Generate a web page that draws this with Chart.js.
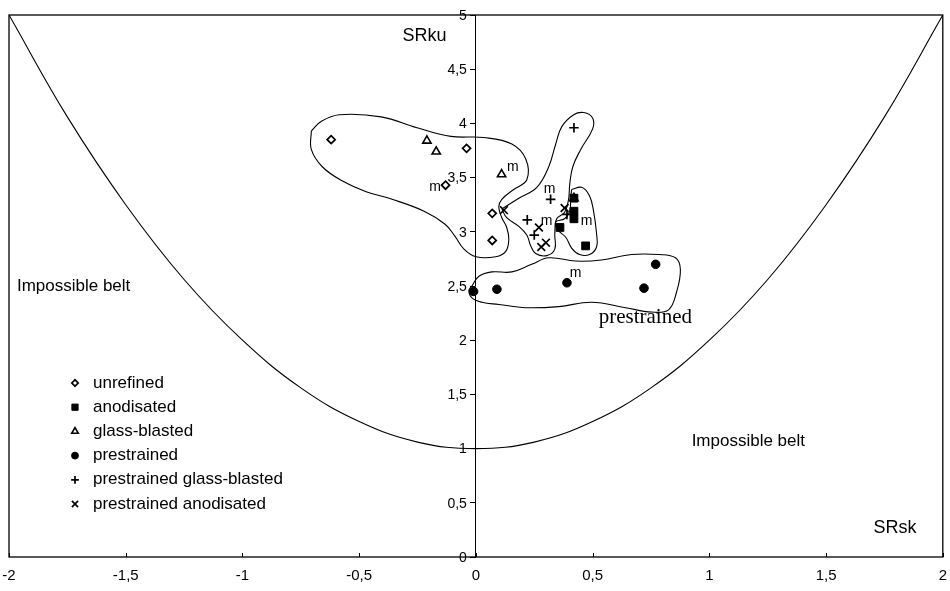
<!DOCTYPE html>
<html>
<head>
<meta charset="utf-8">
<script src="https://cdn.jsdelivr.net/npm/chart.js"></script>
<style>
  html, body { margin: 0; padding: 0; background: #fff; }
  canvas { display: block; }
</style>
</head>
<body>
<canvas id="chartSkewKurt" width="950" height="591"></canvas>
<script>
/* ── Axis tick labels ─────────────────────────────────────── */
const X_TICKS = ['-2', '-1,5', '-1', '-0,5', '0', '0,5', '1', '1,5', '2'];
const Y_TICKS = ['0', '0,5', '1', '1,5', '2', '2,5', '3', '3,5', '4', '4,5', '5'];

/* ── Measured points (SRsk, SRku) ── */
const unrefinedX = [-0.62, -0.04, -0.13, 0.07, 0.07];
const unrefinedY = [3.85, 3.77, 3.43, 3.17, 2.92];

const anodisatedX = [0.42, 0.42, 0.42, 0.36, 0.47];
const anodisatedY = [3.31, 3.19, 3.12, 3.04, 2.87];

const glassX = [-0.21, -0.17, 0.11, 0.42];
const glassY = [3.84, 3.74, 3.53, 3.31];

const prestrainedX = [-0.01, 0.09, 0.39, 0.72, 0.77];
const prestrainedY = [2.45, 2.47, 2.53, 2.48, 2.70];

const preGlassX = [0.42, 0.32, 0.22, 0.25, 0.39];
const preGlassY = [3.96, 3.30, 3.11, 2.97, 3.16];

const preAnodX = [0.12, 0.27, 0.28, 0.30, 0.38];
const preAnodY = [3.20, 3.04, 2.86, 2.90, 3.22];

/* ── Impossible-belt boundary ── */
const boundX = [-2, -1.75, -1.5, -1.25, -1, -0.75, -0.5, -0.25, 0, 0.25, 0.5, 0.75, 1, 1.25, 1.5, 1.75, 2];
const boundY = [5, 4.06, 3.25, 2.56, 2, 1.56, 1.25, 1.06, 1, 1.06, 1.25, 1.56, 2, 2.56, 3.25, 4.06, 5];

/* ── Hand-drawn group outlines ── */
const outlineAX = [-0.705, -0.662, -0.585, -0.406, -0.252, -0.107, 0.034, 0.154, 0.214, 0.218, 0.162, 0.111, 0.098, 0.111, 0.132, 0.141, 0.128, 0.085, 0, -0.051, -0.090, -0.132, -0.222, -0.359, -0.470, -0.573, -0.658, -0.705, -0.705];
const outlineAY = [3.93, 4.02, 4.08, 4.06, 3.96, 3.88, 3.87, 3.81, 3.67, 3.48, 3.39, 3.30, 3.23, 3.13, 3.04, 2.93, 2.82, 2.77, 2.77, 2.84, 2.96, 3.07, 3.19, 3.30, 3.37, 3.47, 3.60, 3.76, 3.93];

const outlineBX = [0.111, 0.184, 0.261, 0.312, 0.342, 0.368, 0.419, 0.462, 0.500, 0.500, 0.449, 0.415, 0.402, 0.397, 0.380, 0.346, 0.338, 0.338, 0.303, 0.256, 0.235, 0.218, 0.184, 0.132, 0.111];
const outlineBY = [3.21, 3.31, 3.41, 3.60, 3.81, 3.97, 4.08, 4.10, 4.05, 3.95, 3.76, 3.60, 3.44, 3.30, 3.18, 3.12, 2.98, 2.84, 2.78, 2.80, 2.87, 2.97, 3.05, 3.13, 3.21];

const outlineCX = [0.410, 0.453, 0.487, 0.504, 0.517, 0.517, 0.487, 0.444, 0.410, 0.385, 0.350, 0.342, 0.380, 0.402, 0.406, 0.410];
const outlineCY = [3.39, 3.41, 3.33, 3.19, 2.98, 2.86, 2.79, 2.79, 2.85, 2.95, 3.02, 3.09, 3.12, 3.19, 3.30, 3.39];

const outlineDX = [-0.017, 0.013, 0.068, 0.154, 0.239, 0.312, 0.427, 0.538, 0.667, 0.782, 0.855, 0.876, 0.859, 0.825, 0.752, 0.641, 0.496, 0.355, 0.214, 0.098, 0.026, -0.017, -0.030, -0.017];
const outlineDY = [2.50, 2.59, 2.63, 2.63, 2.70, 2.76, 2.73, 2.74, 2.79, 2.79, 2.76, 2.65, 2.44, 2.28, 2.26, 2.30, 2.35, 2.31, 2.30, 2.33, 2.35, 2.39, 2.46, 2.50];

/* ── "m" markers and free text ── */
const mLabelX = [-0.175, 0.158, 0.316, 0.303, 0.474, 0.427];
const mLabelY = [3.41, 3.60, 3.39, 3.10, 3.10, 2.62];

const noteText = ['SRku', 'SRsk', 'Impossible belt', 'Impossible belt', 'prestrained'];
const noteX = [-0.22, 1.795, -1.966, 1.167, 0.726];
const noteY = [4.81, 0.27, 2.50, 1.07, 2.21];

const legendLabels = ['unrefined', 'anodisated', 'glass-blasted', 'prestrained', 'prestrained glass-blasted', 'prestrained anodisated'];

/* ── Helpers ── */
const SANS = '"Liberation Sans", Arial, sans-serif';
const SERIF = '"Liberation Serif", "Times New Roman", serif';
const zip = (xs, ys) => xs.map((x, i) => ({ x, y: ys[i] }));

const MARKERS = [
  { pointStyle: 'rectRot',  radius: 4,   fill: '#fff', width: 1.7 },
  { pointStyle: 'rect',     radius: 5.5, fill: '#000', width: 1 },
  { pointStyle: 'triangle', radius: 4.8, fill: '#fff', width: 1.6 },
  { pointStyle: 'circle',   radius: 4.3, fill: '#000', width: 1 },
  { pointStyle: 'cross',    radius: 4.8, fill: '#000', width: 1.7 },
  { pointStyle: 'crossRot', radius: 5.5, fill: '#000', width: 1.7 },
];

function markerSet(label, xs, ys, m) {
  return {
    label,
    data: zip(xs, ys),
    pointStyle: m.pointStyle,
    pointRadius: m.radius,
    pointBackgroundColor: m.fill,
    pointBorderColor: '#000',
    pointBorderWidth: m.width,
    showLine: false,
  };
}

function lineSet(label, xs, ys, width) {
  return {
    label,
    data: zip(xs, ys),
    showLine: true,
    fill: false,
    pointRadius: 0,
    borderColor: '#000',
    borderWidth: width,
    tension: 0.4,
  };
}

/* ── Plugins: frame + axis labels, free text, legend ── */
const framePlugin = {
  id: 'frame',
  beforeDatasetsDraw(chart) {
    const { ctx, chartArea: a, scales: { x, y } } = chart;
    ctx.save();
    ctx.strokeStyle = '#000';
    ctx.lineWidth = 1.3;
    ctx.strokeRect(a.left, a.top, a.right - a.left, a.bottom - a.top);
    // small inward tick marks on the bottom axis
    ctx.lineWidth = 1;
    x.ticks.forEach(t => {
      const px = Math.round(x.getPixelForValue(t.value)) + 0.5;
      ctx.beginPath();
      ctx.moveTo(px, a.bottom);
      ctx.lineTo(px, a.bottom - 4);
      ctx.stroke();
    });
    // y labels sit left of the centred axis
    const axisX = x.getPixelForValue(0);
    ctx.fillStyle = '#000';
    ctx.font = `14px ${SANS}`;
    ctx.textAlign = 'right';
    ctx.textBaseline = 'middle';
    y.ticks.forEach((t, i) => ctx.fillText(Y_TICKS[i], axisX - 9, y.getPixelForValue(t.value) + 1));
    ctx.restore();
  }
};

const textPlugin = {
  id: 'notes',
  afterDatasetsDraw(chart) {
    const { ctx, scales: { x, y } } = chart;
    ctx.save();
    ctx.fillStyle = '#000';
    ctx.textBaseline = 'middle';

    ctx.font = `14px ${SANS}`;
    ctx.textAlign = 'center';
    mLabelX.forEach((v, i) => ctx.fillText('m', x.getPixelForValue(v), y.getPixelForValue(mLabelY[i])));

    noteText.forEach((t, i) => {
      const isSerif = t === 'prestrained';
      const isAxis = t.startsWith('SR');
      ctx.font = isSerif ? `21px ${SERIF}` : isAxis ? `18px ${SANS}` : `17px ${SANS}`;
      ctx.textAlign = noteX[i] < -1.9 ? 'left' : 'center';
      ctx.fillText(t, x.getPixelForValue(noteX[i]), y.getPixelForValue(noteY[i]));
    });
    ctx.restore();
  }
};

const legendPlugin = {
  id: 'boxLegend',
  afterDatasetsDraw(chart) {
    const { ctx } = chart;
    const helpers = Chart.helpers;
    ctx.save();
    ctx.font = `17px ${SANS}`;
    ctx.textAlign = 'left';
    ctx.textBaseline = 'middle';
    legendLabels.forEach((label, i) => {
      const cy = 383 + i * 24.2;
      const m = MARKERS[i];
      ctx.fillStyle = m.fill;
      ctx.strokeStyle = '#000';
      ctx.lineWidth = m.width;
      helpers.drawPoint(ctx, { pointStyle: m.pointStyle, radius: m.radius * 0.8, rotation: 0, borderWidth: m.width }, 75, cy);
      ctx.fillStyle = '#000';
      ctx.fillText(label, 93, cy);
    });
    ctx.restore();
  }
};

/* ── Chart ── */
const datasets = [
  markerSet('unrefined', unrefinedX, unrefinedY, MARKERS[0]),
  markerSet('anodisated', anodisatedX, anodisatedY, MARKERS[1]),
  markerSet('glass-blasted', glassX, glassY, MARKERS[2]),
  markerSet('prestrained', prestrainedX, prestrainedY, MARKERS[3]),
  markerSet('prestrained glass-blasted', preGlassX, preGlassY, MARKERS[4]),
  markerSet('prestrained anodisated', preAnodX, preAnodY, MARKERS[5]),
  lineSet('bound', boundX, boundY, 1.1),
  lineSet('A', outlineAX, outlineAY, 1.1),
  lineSet('B', outlineBX, outlineBY, 1.1),
  lineSet('C', outlineCX, outlineCY, 1.1),
  lineSet('D', outlineDX, outlineDY, 1.1),
];

new Chart(document.getElementById('chartSkewKurt'), {
  type: 'scatter',
  data: { datasets },
  options: {
    responsive: false,
    animation: false,
    layout: { padding: { left: 9, right: 7, top: 15, bottom: 0 } },
    plugins: { legend: { display: false }, tooltip: { enabled: false } },
    scales: {
      x: {
        type: 'linear', min: -2, max: 2, position: 'bottom',
        ticks: { stepSize: 0.5, padding: 10, color: '#000', font: { family: SANS, size: 15 }, callback: (v, i) => X_TICKS[i] },
        grid: { display: false, drawTicks: false },
        border: { display: false },
        afterFit: s => { s.height = 34; s.paddingLeft = 0; s.paddingRight = 0; },
      },
      y: {
        type: 'linear', min: 0, max: 5, position: { x: 0 },
        ticks: { stepSize: 0.5, display: false },
        grid: { drawOnChartArea: false, tickLength: 5, color: '#000' },
        border: { color: '#000', width: 1 },
      }
    }
  },
  plugins: [framePlugin, textPlugin, legendPlugin]
});
</script>
</body>
</html>
